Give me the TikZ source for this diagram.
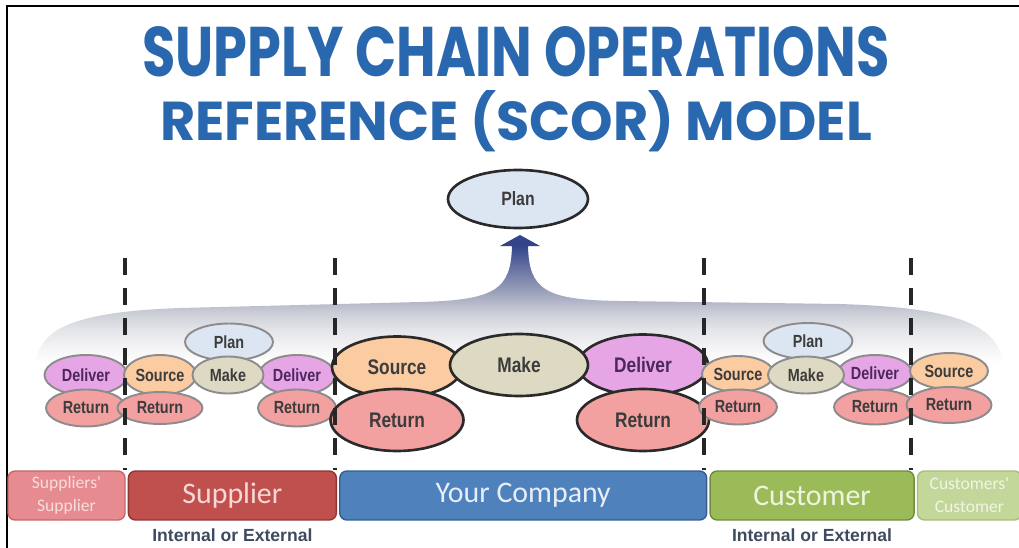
\documentclass[tikz,border=0pt]{standalone}
\usepackage{fontspec}
\usepackage{graphicx}
\setmainfont{Liberation Sans}
\newfontfamily\procfont[FakeStretch=0.82]{Liberation Sans}
\newfontfamily\bandfont{Carlito}
\newfontfamily\titlefont{Poppins}
\usetikzlibrary{shapes.geometric, positioning}

\definecolor{titleblue}{HTML}{2967AE}
\definecolor{planfill}{HTML}{DCE6F2}
\definecolor{sourcefill}{HTML}{FBCBA2}
\definecolor{makefill}{HTML}{DDD9C3}
\definecolor{deliverfill}{HTML}{E6A6E6}
\definecolor{returnfill}{HTML}{F2A0A0}
\definecolor{proctext}{HTML}{3C3C3C}
\definecolor{delivertext}{HTML}{4B2660}
\definecolor{smallline}{HTML}{8C8C8C}
\definecolor{bigline}{HTML}{2A2A2A}
\definecolor{notetext}{HTML}{3F4A5E}
\definecolor{fanlight}{HTML}{F3F3F5}
\definecolor{fanpale}{HTML}{E2E3E8}
\definecolor{fangray}{HTML}{CBCDD6}
\definecolor{fanmid}{HTML}{B2B6C8}
\definecolor{fansteel}{HTML}{8E95B4}
\definecolor{fanblue}{HTML}{5F6A9E}
\definecolor{fannavy}{HTML}{33448A}
\definecolor{ssfill}{HTML}{E68C90}
\definecolor{ssline}{HTML}{C2666A}
\definecolor{sstext}{HTML}{F8DCDD}
\definecolor{supfill}{HTML}{C0504D}
\definecolor{supline}{HTML}{8E3533}
\definecolor{suptext}{HTML}{F8D8D6}
\definecolor{cofill}{HTML}{4F81BD}
\definecolor{coline}{HTML}{385D8A}
\definecolor{cotext}{HTML}{E8EEF8}
\definecolor{cusfill}{HTML}{9BBB59}
\definecolor{cusline}{HTML}{71893F}
\definecolor{custext}{HTML}{EEF4E0}
\definecolor{ccfill}{HTML}{C4D79B}
\definecolor{ccline}{HTML}{A6BD78}
\definecolor{cctext}{HTML}{F0F5E4}
\pgfdeclareverticalshading{fanshade}{100bp}{color(0bp)=(white); color(27bp)=(white);
  color(33bp)=(fanlight); color(40bp)=(fanpale); color(46bp)=(fangray); color(50bp)=(fanmid);
  color(56bp)=(fansteel); color(64bp)=(fanblue); color(71bp)=(fannavy); color(100bp)=(fannavy)}

\tikzset{
  proc/.style={ellipse, inner sep=0pt, text=proctext},
  small/.style={proc, draw=smallline, line width=1.1pt, minimum width=1.52cm, minimum height=0.74cm,
    font=\procfont\bfseries\fontsize{10}{12}\selectfont},
  big/.style={proc, draw=bigline, line width=1.5pt, minimum width=2.6cm, minimum height=1.22cm,
    font=\procfont\bfseries\fontsize{12}{14}\selectfont},
  plan/.style={fill=planfill},
  source/.style={fill=sourcefill},
  make/.style={fill=makefill},
  deliver/.style={fill=deliverfill, text=delivertext},
  return/.style={fill=returnfill},
  band/.style={rectangle, rounded corners=4pt, line width=0.8pt, minimum height=0.98cm, inner sep=0pt,
    align=center, font=\bandfont\fontsize{17}{20}\selectfont},
  smallband/.style={band, font=\bandfont\fontsize{10}{13}\selectfont},
  extnote/.style={font=\bfseries\fontsize{10}{12}\selectfont, text=notetext},
  titletext/.style={inner sep=0pt, text=titleblue, font=\titlefont\bfseries},
  divider/.style={line width=2pt, black!85, dash pattern=on 0.34cm off 0.26cm}
}

\begin{document}
\begin{tikzpicture}[x=0.02cm, y=0.02cm]
  \useasboundingbox (0,0) rectangle (1019,-548);
  \draw[line width=1.7pt] (7,-548) -- (7,-6) -- (1019,-6);

  \node[titletext, anchor=base] (title1) at (516,-76) {\resizebox{14.94cm}{1.0cm}{SUPPLY CHAIN OPERATIONS}};
  \node[titletext, anchor=base] (title2) at (516,-140) {\resizebox{14.24cm}{1.0cm}{REFERENCE (SCOR) MODEL}};

  \shade[shading=fanshade] (36,-368) .. controls (36,-330) and (70,-312) .. (180,-308) -- (420,-302)
    .. controls (495,-300) and (511,-290) .. (512,-246) -- (500,-246) -- (520,-235) -- (540,-246) -- (528,-246)
    .. controls (529,-290) and (545,-300) .. (620,-301) -- (840,-304)
    .. controls (960,-308) and (1000,-325) .. (1004,-368) -- cycle;

  \node[big, plan, minimum width=2.8cm, minimum height=1.16cm,
    font=\procfont\bfseries\fontsize{11}{13}\selectfont] (topplan) at (518,-199) {Plan};

  \begin{scope}[on grid]
    \node[small, deliver, minimum width=1.66cm, minimum height=0.8cm] (ssdeliver) at (86,-375) {Deliver};
    \node[small, return, minimum width=1.6cm] (ssreturn) [below=0.66cm of ssdeliver] {Return};

    \node[small, plan, minimum width=1.76cm] (supplan) at (229,-342) {Plan};
    \node[small, source, minimum width=1.44cm, minimum height=0.8cm] (supsource) at (160,-375) {Source};
    \node[small, deliver, minimum height=0.8cm] (supdeliver) at (297,-375) {Deliver};
    \node[small, make, minimum width=1.42cm] (supmake) at (228,-375) {Make};
    \node[small, return, minimum width=1.7cm, minimum height=0.64cm] (supreturn1) [below=0.66cm of supsource] {Return};
    \node[small, return, minimum width=1.56cm] (supreturn2) [below=0.66cm of supdeliver] {Return};

    \node[big, source] (cosource) at (397,-367) {Source};
    \node[big, deliver] (codeliver) at (643,-365) {Deliver};
    \node[big, make, minimum width=2.76cm, minimum height=1.24cm] (comake) at (519,-365) {Make};
    \node[big, return, minimum width=2.66cm, minimum height=1.24cm] (coreturn1) [below=1.06cm of cosource] {Return};
    \node[big, return, minimum width=2.64cm, minimum height=1.24cm] (coreturn2) [below=1.1cm of codeliver] {Return};

    \node[small, plan, minimum width=1.78cm, minimum height=0.72cm] (cusplan) at (808,-341) {Plan};
    \node[small, source, minimum width=1.44cm, minimum height=0.72cm] (cussource) at (738,-374) {Source};
    \node[small, deliver, minimum width=1.48cm, minimum height=0.72cm] (cusdeliver) at (875,-373) {Deliver};
    \node[small, make] (cusmake) at (806,-375) {Make};
    \node[small, return, minimum width=1.56cm, minimum height=0.7cm] (cusreturn1) [below=0.66cm of cussource] {Return};
    \node[small, return, minimum width=1.64cm, minimum height=0.7cm] (cusreturn2) [below=0.68cm of cusdeliver] {Return};

    \node[small, source, minimum width=1.56cm, minimum height=0.72cm] (ccsource) at (949,-371) {Source};
    \node[small, return, minimum width=1.7cm, minimum height=0.72cm] (ccreturn) [below=0.68cm of ccsource] {Return};
  \end{scope}

  \node[smallband, fill=ssfill, draw=ssline, text=sstext, minimum width=2.34cm] (sssupplier) at (66.5,-495.5) {Suppliers'\\Supplier};
  \node[band, fill=supfill, draw=supline, text=suptext, minimum width=4.16cm] (supplier) [right=0.04cm of sssupplier] {Supplier};
  \node[band, fill=cofill, draw=coline, text=cotext, minimum width=7.34cm] (company) [right=0.04cm of supplier] {Your Company};
  \node[band, fill=cusfill, draw=cusline, text=custext, minimum width=4.08cm] (customer) [right=0.04cm of company] {Customer};
  \node[smallband, fill=ccfill, draw=ccline, text=cctext, minimum width=2.08cm] (cccustomer) [right=0.04cm of customer] {Customers'\\Customer};

  \node[extnote] (supnote) [below=0.04cm of supplier] {Internal or External};
  \node[extnote] (cusnote) [below=0.04cm of customer] {Internal or External};

  \foreach \x in {125,335,704,911}
    \draw[divider] (\x,-258) -- (\x,-470);
\end{tikzpicture}
\end{document}
